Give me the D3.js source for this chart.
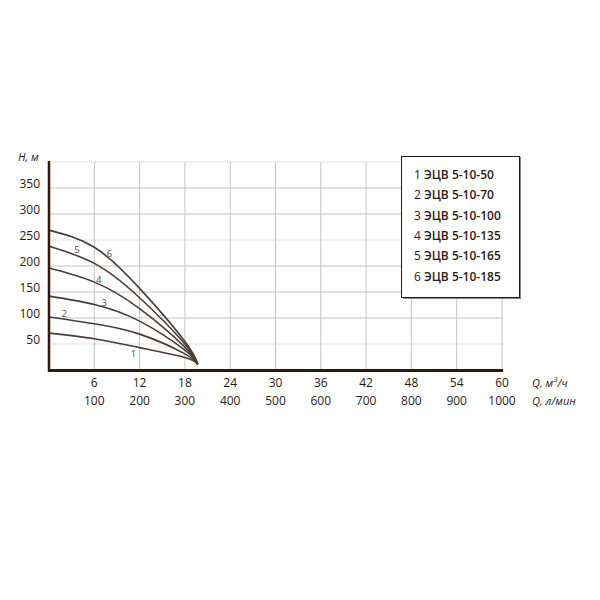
<!DOCTYPE html>
<html><head><meta charset="utf-8">
<script src="https://cdn.jsdelivr.net/npm/d3@7"></script>
<style>body{margin:0;background:#fff}svg text{font-family:"Open Sans",sans-serif}</style>
</head><body><svg id="c" width="600" height="600"></svg>
<script>
const qM3 = [6,12,18,24,30,36,42,48,54,60];
const qLmin = [100,200,300,400,500,600,700,800,900,1000];
const hTicks = [50,100,150,200,250,300,350];
const curveQ = [0,6,12,18,19.7];
const curveNames = ["1","2","3","4","5","6"];
const models = ["ЭЦВ 5-10-50","ЭЦВ 5-10-70","ЭЦВ 5-10-100","ЭЦВ 5-10-135","ЭЦВ 5-10-165","ЭЦВ 5-10-185"];
const h1 = [71,60,43,24,11];
const h2 = [102,89,69,31,11];
const h3 = [142,126,94,38,11];
const h4 = [196,169,118,44,11];
const h5 = [238,205,139,50,11];
const h6 = [269,236,157,55,11];
const series = [h1,h2,h3,h4,h5,h6];
// label positions (Q, H) per curve
const labelQ = [11.2,2.0,7.3,6.6,3.7,8.0];
const labelH = [30,106,128,172,229,222];

const svg = d3.select("#c");
const x = d3.scaleLinear().domain([0,60]).range([49,502]);
const y = d3.scaleLinear().domain([0,400]).range([370,162]);
const ink = "#2b1a12";

// grid
const g = svg.append("g");
g.selectAll(".vg").data(qM3).join("line")
  .attr("x1",d=>x(d)).attr("x2",d=>x(d)).attr("y1",y(400)).attr("y2",y(0))
  .attr("stroke","#c4c4c4").attr("stroke-width",1);
g.selectAll(".hg").data(hTicks.concat([400])).join("line")
  .attr("x1",x(0)).attr("x2",x(60)).attr("y1",d=>y(d)).attr("y2",d=>y(d))
  .attr("stroke","#c4c4c4").attr("stroke-width",1)
  .attr("stroke-dasharray",d=>(d===400||d===250||d===50)?"1,1":null);

// curves
const line = d3.line().x((d,i)=>x(curveQ[i])).y(d=>y(d)).curve(d3.curveNatural);
svg.selectAll(".crv").data(series).join("path")
  .attr("d",d=>line(d)).attr("fill","none").attr("stroke","#4a3b36").attr("stroke-width",1.6);

svg.selectAll(".cl").data(curveNames).join("text")
  .attr("x",(d,i)=>x(labelQ[i])).attr("y",(d,i)=>y(labelH[i]))
  .attr("text-anchor","middle").attr("dominant-baseline","middle")
  .attr("font-size",9.5).attr("fill","#5a4a44").text(d=>d);

// axes
svg.append("line").attr("x1",x(0)).attr("x2",x(0)).attr("y1",161).attr("y2",y(0)+2)
  .attr("stroke",ink).attr("stroke-width",2.5);
svg.append("line").attr("x1",x(0)-1).attr("x2",x(60)+1).attr("y1",y(0)+0.5).attr("y2",y(0)+0.5)
  .attr("stroke",ink).attr("stroke-width",3);

// y labels
svg.selectAll(".yl").data(hTicks).join("text")
  .attr("x",40).attr("y",d=>y(d)-3).attr("text-anchor","end").attr("dominant-baseline","middle")
  .attr("font-size",12).attr("fill",ink).text(d=>d);
svg.append("text").attr("x",18).attr("y",158).attr("dominant-baseline","middle")
  .attr("font-size",11).attr("font-style","italic").attr("fill",ink).text("H, м");

// x labels
svg.selectAll(".xl1").data(qM3).join("text")
  .attr("x",d=>x(d)).attr("y",384).attr("text-anchor","middle").attr("dominant-baseline","middle")
  .attr("font-size",12).attr("fill",ink).text(d=>d);
svg.selectAll(".xl2").data(qLmin).join("text")
  .attr("x",(d,i)=>x(qM3[i])).attr("y",402).attr("text-anchor","middle").attr("dominant-baseline","middle")
  .attr("font-size",12).attr("fill",ink).text(d=>d);
const u1 = svg.append("text").attr("x",532).attr("y",384).attr("dominant-baseline","middle")
  .attr("font-size",11).attr("font-style","italic").attr("fill",ink);
u1.append("tspan").text("Q, м");
u1.append("tspan").attr("font-size",8).attr("dy",-4).text("3");
u1.append("tspan").attr("dy",4).text("/ч");
svg.append("text").attr("x",532).attr("y",402).attr("dominant-baseline","middle")
  .attr("font-size",11).attr("font-style","italic").attr("fill",ink).text("Q, л/мин");

// legend
svg.append("rect").attr("x",403).attr("y",157).attr("width",118).attr("height",142).attr("fill","#888");
svg.append("rect").attr("x",401.5).attr("y",156.5).attr("width",118).attr("height",141)
  .attr("fill","#fff").attr("stroke",ink).attr("stroke-width",1);
const lt = svg.selectAll(".lg").data(models).join("text")
  .attr("x",414).attr("y",(d,i)=>176+i*20.3).attr("dominant-baseline","middle")
  .attr("font-size",12).attr("fill",ink);
lt.append("tspan").text((d,i)=>curveNames[i]+" ");
lt.append("tspan").attr("font-weight","600").text(d=>d);
</script></body></html>
